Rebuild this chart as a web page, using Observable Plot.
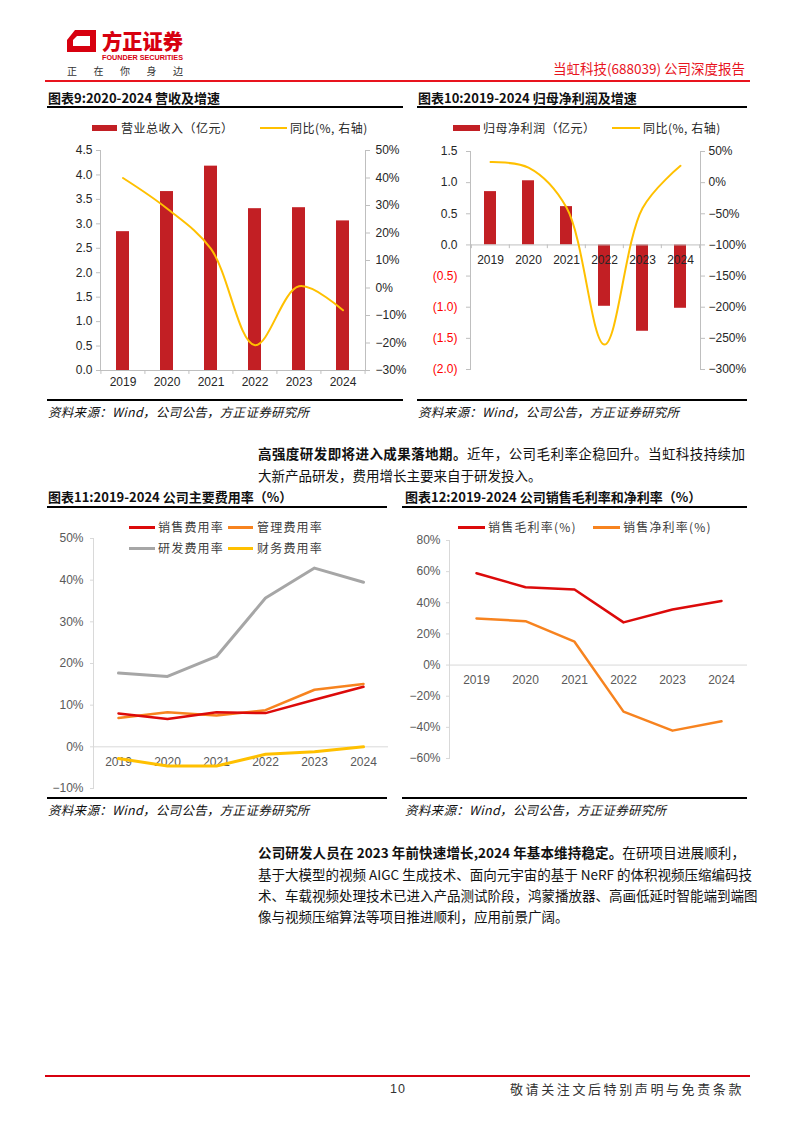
<!DOCTYPE html>
<html><head><meta charset="utf-8">
<script src="https://cdn.jsdelivr.net/npm/d3@7"></script>
<script src="https://cdn.jsdelivr.net/npm/@observablehq/plot@0.6"></script>
<style>
body{margin:0;background:#fff;}
#page{position:relative;width:794px;height:1123px;overflow:hidden;font-family:"Noto Sans CJK SC",sans-serif;color:#000;background:#fff;}
.abs{position:absolute;white-space:nowrap;}
.title{font-size:13px;font-weight:700;line-height:16px;color:#111;}
.src{font-size:12.5px;font-style:italic;line-height:16px;color:#111;letter-spacing:0.3px;}
.leg{font-size:12px;line-height:14px;color:#262626;letter-spacing:0.5px;}
.leg2{font-size:12px;line-height:14px;color:#404040;letter-spacing:1.2px;}
.para{position:absolute;left:258px;width:487px;font-size:13.5px;line-height:18px;white-space:nowrap;text-align:justify;text-align-last:justify;color:#111;}
.plot{position:absolute;}
</style></head>
<body><div id="page"></div>
<script>
// ---------------- data ----------------
const years = ["2019","2020","2021","2022","2023","2024"];
// 图表9
const revenue = [2.84, 3.66, 4.18, 3.31, 3.33, 3.06];        // 亿元
const revenueYoY = [40.0, 28.9, 14.2, -20.8, 0.6, -8.1];     // %
const revLeftTicks = [0,0.5,1,1.5,2,2.5,3,3.5,4,4.5];
const revRightTicks = [-30,-20,-10,0,10,20,30,40,50];
// 图表10
const profit = [0.856, 1.03, 0.615, -0.985, -1.386, -1.017]; // 亿元
const profitYoY = [33, 24, -40, -260, -41, 27];              // %
const profLeftTicks = [-2,-1.5,-1,-0.5,0,0.5,1,1.5];
const profRightTicks = [-300,-250,-200,-150,-100,-50,0,50];
// 图表11
const sellRate = [8.0, 6.7, 8.3, 8.1, 11.3, 14.4];
const adminRate = [6.9, 8.3, 7.5, 8.8, 13.7, 15.1];
const rdRate = [17.7, 16.9, 21.7, 35.7, 42.9, 39.5];
const finRate = [-2.8, -4.6, -4.6, -1.8, -1.2, 0.0];
const expTicks = [-10,0,10,20,30,40,50];
// 图表12
const grossMargin = [59.0, 50.0, 48.5, 27.4, 35.7, 41.2];
const netMargin = [29.9, 28.2, 15.0, -29.9, -42.1, -36.1];
const marginTicks = [-60,-40,-20,0,20,40,60,80];

// ---------------- helpers ----------------
const page = document.getElementById("page");
function add(html, left, top, cls, extra){
  const d = document.createElement("div");
  d.className = "abs " + (cls||"");
  d.style.left = left + "px"; d.style.top = top + "px";
  if (extra) Object.assign(d.style, extra);
  d.innerHTML = html; page.appendChild(d); return d;
}
function box(left, top, w, h, color){
  const d = document.createElement("div");
  Object.assign(d.style, {position:"absolute", left:left+"px", top:top+"px", width:w+"px", height:h+"px", background:color});
  page.appendChild(d); return d;
}
function placePlot(svg, left, top){
  svg.classList.add("plot");
  svg.style.left = left + "px"; svg.style.top = top + "px";
  page.appendChild(svg);
}
const pct = v => (v < 0 ? "\u2212" + Math.abs(v) : String(v)) + "%";
const numFont = "'Liberation Sans', Arial, sans-serif";
const RED_BAR = "#C21F24", GOLD = "#FFC000";

// ---------------- header ----------------
add(`<svg width="140" height="55" viewBox="0 0 140 55" style="overflow:visible">
  <path d="M20,5 H41 V27 H12 V15 Z M22,11 L18,15 V21 H35 V11 Z" fill="#D7000F" fill-rule="evenodd"/>
  <text x="47" y="24" textLength="81" lengthAdjust="spacingAndGlyphs" font-family="Noto Sans CJK SC" font-weight="900" font-size="21" fill="#D7000F">方正证券</text>
  <text x="47" y="35" textLength="81" lengthAdjust="spacingAndGlyphs" font-family="Liberation Sans" font-weight="700" font-size="8" fill="#D7000F">FOUNDER SECURITIES</text>
  <text x="12" y="50" textLength="116" lengthAdjust="spacing" font-family="Noto Sans CJK SC" font-size="10" fill="#333">正在你身边</text>
</svg>`, 55, 25);
add("当虹科技(688039) 公司深度报告", 553, 60, "", {fontSize:"13.5px", color:"#E8141E", lineHeight:"16px"});
box(45, 80, 705, 1.5, "#E8141E");

// ---------------- titles / rules / sources ----------------
add("图表9:2020-2024 营收及增速", 48, 90, "title");
add("图表10:2019-2024 归母净利润及增速", 418, 90, "title");
box(47, 106, 356, 2, "#000"); box(417, 106, 330, 2, "#000");
box(47, 399, 356, 2, "#000"); box(417, 399, 330, 2, "#000");
add("资料来源：Wind，公司公告，方正证券研究所", 48, 404, "src");
add("资料来源：Wind，公司公告，方正证券研究所", 418, 404, "src");

add("图表11:2019-2024 公司主要费用率（%）", 48, 489, "title");
add("图表12:2019-2024 公司销售毛利率和净利率（%）", 405, 489, "title");
box(47, 506, 340, 2, "#000"); box(402, 506, 345, 2, "#000");
box(47, 797, 340, 2, "#000"); box(402, 797, 345, 2, "#000");
add("资料来源：Wind，公司公告，方正证券研究所", 48, 802, "src");
add("资料来源：Wind，公司公告，方正证券研究所", 405, 802, "src");

// paragraphs
add('<b>高强度研发即将进入成果落地期。</b>近年，公司毛利率企稳回升。当虹科技持续加', 0, 444, "para");
add('大新产品研发，费用增长主要来自于研发投入。', 0, 466, "para", {textAlignLast:"left", width:"auto"});
add('<b>公司研发人员在 2023 年前快速增长,2024 年基本维持稳定。</b>在研项目进展顺利，', 0, 843, "para");
add('基于大模型的视频 AIGC 生成技术、面向元宇宙的基于 NeRF 的体积视频压缩编码技', 0, 865, "para");
add('术、车载视频处理技术已进入产品测试阶段，鸿蒙播放器、高画低延时智能端到端图', 0, 886, "para");
add('像与视频压缩算法等项目推进顺利，应用前景广阔。', 0, 907, "para", {textAlignLast:"left", width:"auto"});
document.querySelectorAll(".para").forEach(p => p.style.left = "258px");

// footer
box(45, 1075, 705, 1.5, "#D7000F");
add("10", 390, 1081, "", {fontSize:"12.5px", color:"#333", lineHeight:"16px", fontFamily:numFont, letterSpacing:"1px"});
add("敬请关注文后特别声明与免责条款", 510, 1081, "", {fontSize:"13px", color:"#333", lineHeight:"16px", letterSpacing:"2.6px"});

// ---------------- legends ----------------
box(92, 125, 25, 6, RED_BAR); add("营业总收入（亿元）", 121, 121, "leg");
box(260, 127, 27, 2, GOLD);   add("同比(%, 右轴)", 290, 121, "leg");
box(453, 125, 27, 6, RED_BAR); add("归母净利润（亿元）", 483, 121, "leg");
box(612, 127, 28, 2, GOLD);    add("同比(%, 右轴)", 643, 121, "leg");

// ---------------- chart 9 ----------------
const rev = years.map((y,i)=>({year:y, value:revenue[i], yoy:revenueYoY[i]}));
const mapRev = v => (v + 30) / 80 * 4.5;
const unmapRev = y => Math.round(y * 80 / 4.5 - 30);
const c9 = Plot.plot({
  width:370, height:260, marginLeft:60, marginRight:45, marginTop:10, marginBottom:30,
  x:{type:"band", domain:years, paddingInner:0.7, paddingOuter:0.35, axis:null},
  y:{domain:[0,4.5], axis:null},
  style:{fontFamily:numFont, fontSize:"12px", color:"#262626", background:"transparent", overflow:"visible"},
  marks:[
    Plot.barY(rev, {x:"year", y:"value", fill:RED_BAR}),
    Plot.frame({anchor:"left", stroke:"#BFBFBF"}),
    Plot.frame({anchor:"right", stroke:"#BFBFBF"}),
    Plot.frame({anchor:"bottom", stroke:"#BFBFBF"}),
    Plot.axisY({ticks:revLeftTicks, tickFormat:d3.format(".1f"), tickSize:4, tickPadding:4, stroke:"#BFBFBF", fill:"#262626", label:null}),
    Plot.axisY({anchor:"right", ticks:revRightTicks.map(mapRev), tickFormat:d => pct(unmapRev(d)), tickSize:4, tickPadding:6, stroke:"#BFBFBF", fill:"#262626", label:null}),
    Plot.ruleX(years, {x:d=>d, y1:0, y2:-0.08, dx:-22.08, stroke:"#BFBFBF"}),
    Plot.ruleX(years.slice(-1), {x:d=>d, y1:0, y2:-0.08, dx:22.08, stroke:"#BFBFBF"}),
    Plot.text(years, {x:d=>d, frameAnchor:"bottom", dy:15, fill:"#262626"}),
    Plot.line(rev, {x:"year", y:d=>mapRev(d.yoy), stroke:GOLD, strokeWidth:2, curve:"catmull-rom"})
  ]
});
placePlot(c9, 40, 140);

// ---------------- chart 10 ----------------
const prof = years.map((y,i)=>({year:y, value:profit[i], yoy:profitYoY[i]}));
const mapProf = v => v / 100 + 1;
const unmapProf = y => Math.round((y - 1) * 100);
const c10 = Plot.plot({
  width:370, height:260, marginLeft:60, marginRight:80, marginTop:11, marginBottom:31,
  x:{type:"band", domain:years, paddingInner:0.69, paddingOuter:0.345, axis:null},
  y:{domain:[-2,1.5], axis:null},
  style:{fontFamily:numFont, fontSize:"12px", color:"#262626", background:"transparent", overflow:"visible"},
  marks:[
    Plot.frame({anchor:"left", stroke:"#BFBFBF"}),
    Plot.frame({anchor:"right", stroke:"#BFBFBF"}),
    Plot.barY(prof, {x:"year", y:"value", fill:RED_BAR}),
    Plot.ruleY([0], {stroke:"#BFBFBF"}),
    Plot.text(years, {x:d=>d, y:()=>0, dy:15, fill:"#262626"}),
    Plot.axisY({ticks:profLeftTicks.filter(v=>v>=0), tickFormat:d3.format(".1f"), tickSize:4, tickPadding:9, stroke:"#BFBFBF", fill:"#262626", label:null}),
    Plot.axisY({ticks:profLeftTicks.filter(v=>v<0), tickFormat:d=>"(" + d3.format(".1f")(Math.abs(d)) + ")", tickSize:4, tickPadding:9, stroke:"#BFBFBF", fill:"#FF0000", label:null}),
    Plot.axisY({anchor:"right", ticks:profRightTicks.map(mapProf), tickFormat:d => pct(unmapProf(d)), tickSize:4, tickPadding:4, stroke:"#BFBFBF", fill:"#262626", label:null}),
    Plot.ruleX(years, {x:d=>d, y1:0, y2:-0.06, dx:-19.17, stroke:"#BFBFBF"}),
    Plot.ruleX(years.slice(-1), {x:d=>d, y1:0, y2:-0.06, dx:19.17, stroke:"#BFBFBF"}),
    Plot.line(prof, {x:"year", y:d=>mapProf(d.yoy), stroke:GOLD, strokeWidth:2, curve:"catmull-rom"})
  ]
});
placePlot(c10, 410, 140);

// ---------------- chart 11 ----------------
const exp = [
  ...years.map((y,i)=>({year:y, v:finRate[i], s:"财务费用率"})),
  ...years.map((y,i)=>({year:y, v:rdRate[i], s:"研发费用率"})),
  ...years.map((y,i)=>({year:y, v:adminRate[i], s:"管理费用率"})),
  ...years.map((y,i)=>({year:y, v:sellRate[i], s:"销售费用率"}))
];
const expColors = {"销售费用率":"#DC0A0A", "管理费用率":"#F7831F", "研发费用率":"#A6A6A6", "财务费用率":GOLD};
const c11 = Plot.plot({
  width:360, height:290, marginLeft:53, marginRight:12, marginTop:28, marginBottom:12,
  x:{type:"point", domain:years, padding:0.5, axis:null},
  y:{domain:[-10,50], axis:null},
  style:{fontFamily:numFont, fontSize:"12px", color:"#595959", background:"transparent", overflow:"visible"},
  marks:[
    Plot.frame({anchor:"left", stroke:"#D9D9D9"}),
    Plot.ruleY([0], {stroke:"#D9D9D9"}),
    Plot.axisY({ticks:expTicks, tickFormat:pct, tickSize:3, tickPadding:7, stroke:"#D9D9D9", fill:"#595959", label:null}),
    Plot.text(years, {x:d=>d, y:()=>0, dy:15, fill:"#595959"}),
    ...["财务费用率","研发费用率","管理费用率","销售费用率"].map(s =>
      Plot.line(exp.filter(d=>d.s===s), {x:"year", y:"v", stroke:expColors[s], strokeWidth:s==="研发费用率"||s==="财务费用率"?3:2.5}))
  ]
});
placePlot(c11, 40, 510);
box(129, 526, 26, 3, "#DC0A0A"); add("销售费用率", 158, 520, "leg2");
box(228, 526, 25, 3, "#F7831F"); add("管理费用率", 257, 520, "leg2");
box(129, 547, 26, 3, "#A6A6A6"); add("研发费用率", 158, 541, "leg2");
box(228, 547, 25, 3, GOLD);      add("财务费用率", 257, 541, "leg2");

// ---------------- chart 12 ----------------
const mar = [
  ...years.map((y,i)=>({year:y, v:netMargin[i], s:"销售净利率(%)"})),
  ...years.map((y,i)=>({year:y, v:grossMargin[i], s:"销售毛利率(%)"}))
];
const marColors = {"销售毛利率(%)":"#DC0A0A", "销售净利率(%)":"#F7831F"};
const c12 = Plot.plot({
  width:360, height:290, marginLeft:49, marginRight:13, marginTop:30, marginBottom:42,
  x:{type:"point", domain:years, padding:0.5, axis:null},
  y:{domain:[-60,80], axis:null},
  style:{fontFamily:numFont, fontSize:"12px", color:"#595959", background:"transparent", overflow:"visible"},
  marks:[
    Plot.frame({anchor:"left", stroke:"#D9D9D9"}),
    Plot.ruleY([0], {stroke:"#D9D9D9"}),
    Plot.axisY({ticks:marginTicks, tickFormat:pct, tickSize:3, tickPadding:6, stroke:"#D9D9D9", fill:"#595959", label:null}),
    Plot.text(years, {x:d=>d, y:()=>0, dy:15, fill:"#595959"}),
    ...["销售净利率(%)","销售毛利率(%)"].map(s =>
      Plot.line(mar.filter(d=>d.s===s), {x:"year", y:"v", stroke:marColors[s], strokeWidth:2.5}))
  ]
});
placePlot(c12, 400, 510);
box(458, 526, 27, 3, "#DC0A0A"); add("销售毛利率(%)", 488, 520, "leg2");
box(593, 526, 27, 3, "#F7831F"); add("销售净利率(%)", 623, 520, "leg2");
</script>
</body></html>
